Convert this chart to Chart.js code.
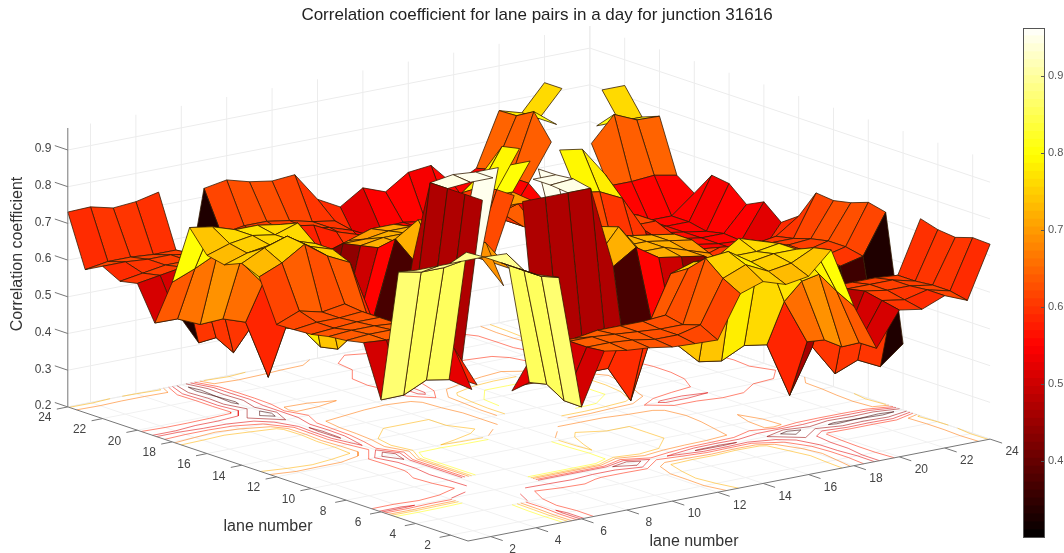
<!DOCTYPE html>
<html><head><meta charset="utf-8">
<script src="https://cdn.jsdelivr.net/npm/chart.js@4"></script>
<style>html,body{margin:0;padding:0;background:#fff;overflow:hidden}
#main{position:absolute;left:0;top:0}#bar{position:absolute;left:1000px;top:0}</style></head>
<body><canvas id="main" width="1064" height="553"></canvas><canvas id="bar" width="64" height="553"></canvas>
<script>
const chartTitle="Correlation coefficient for lane pairs in a day for junction 31616";
const zLabel="Correlation coefficient", laneLabel="lane number";
const laneTicks=[2,4,6,8,10,12,14,16,18,20,22,24];
const zTicks=[0.2,0.3,0.4,0.5,0.6,0.7,0.8,0.9];
const barTicks=[0.4,0.5,0.6,0.7,0.8,0.9];
const N=null;
// lower triangle: row j holds lanes i=1..j
const r01=[N];
const r02=[N,N];
const r03=[N,N,N];
const r04=[.89,.89,.89,.89];
const r05=[.87,.857,.857,.887,N];
const r06=[.505,.506,.535,.524,.485,N];
const r07=[.645,.64,.64,.62,.58,.47,N];
const r08=[.635,.64,.64,.62,.57,.47,.945,N];
const r09=[.63,.635,.635,.63,.56,.47,.945,N,N];
const r10=[.62,.625,.63,.63,.59,.47,.945,.95,.95,N];
const r11=[.617,.625,.625,.63,.59,.47,.945,.955,.95,.95,N];
const r12=[.615,.64,.625,.635,.59,.37,.72,.726,.70,.69,.6,N];
const r13=[.729,.755,.794,.75,.72,.55,.76,.80,.785,.74,.70,.62,N];
const r14=[.75,.78,.80,.76,.74,.50,.72,.72,.72,.72,.70,.62,.79,N];
const r15=[.73,.75,.76,.76,.74,.44,.71,.72,.72,.72,.70,.62,.79,.89,N];
const r16=[.74,.76,.77,.76,.78,.43,.70,.70,.71,.71,.69,.60,.78,.88,N,N];
const r17=[.80,.79,.77,.77,.76,.46,.66,.68,.70,.70,.68,.60,.75,.80,.80,.80,N];
const r18=[.635,.66,.69,.655,.584,.45,.58,.58,.60,.62,.62,.50,.65,.68,.70,.70,.66,N];
const r19=[.508,.507,.48,.483,.462,.30,.70,.69,.66,.64,.62,.50,.60,.60,.62,.64,.64,.55,N];
const r20=[.60,.61,.62,.61,.60,.42,.60,.60,.60,.60,.59,.52,.58,.60,.62,.62,.60,.55,.60,N];
const r21=[.59,.60,.61,.61,.60,.335,.60,.60,.60,.60,.59,.55,.55,.56,.56,.56,.56,.55,.64,.74,N];
const r22=[.615,.615,.61,.61,.60,.36,.60,.61,.61,.61,.60,.58,.55,.55,.55,.55,.55,.55,.64,.807,.76,N];
const r23=[.59,.60,.60,.595,.595,.33,.615,.625,.625,.615,.60,.59,.52,.546,.55,.54,.55,.55,.645,.78,.76,.83,N];
const r24=[.731,.733,.718,.723,.737,.38,.723,.734,.717,.707,.712,.633,.60,.64,.617,.658,.665,.60,.633,.778,.76,.83,N,N];
const rows=[r01,r02,r03,r04,r05,r06,r07,r08,r09,r10,r11,r12,r13,r14,r15,r16,r17,r18,r19,r20,r21,r22,r23,r24];
const absentCells=[[5,23],[7,11],[8,11]];
const contourLevels=[.36,.45,.52,.58,.66,.72,.8];

const Z=(i,j)=>{const a=Math.max(i,j),b=Math.min(i,j);return rows[a-1][b-1];};
const CLIM=[.30,.962], n=rows.length;
function hotRGB(v){const t=Math.min(1,Math.max(0,(v-CLIM[0])/(CLIM[1]-CLIM[0])));
 const r=Math.min(1,t/.375),g=Math.min(1,Math.max(0,(t-.375)/.375)),b=Math.min(1,Math.max(0,(t-.75)/.25));
 return `${Math.round(r*255)},${Math.round(g*255)},${Math.round(b*255)}`;}
const hot=v=>`rgb(${hotRGB(v)})`;
function P(i,j,z){return {x:468+22.7*(i-1)-17.4*(j-1),y:541-4.43*(i-1)-5.83*(j-1)-(z-.2)*367};}
const line=(pts,color,w)=>({data:pts,borderColor:color,borderWidth:w,pointRadius:0,fill:false,tension:0,spanGaps:false});
const list=[];
const gridC='#ececec',zTop=.96;
for(const t of laneTicks){
 list.push(line([P(t,24,.2),P(t,24,zTop)],gridC,1),line([P(24,t,.2),P(24,t,zTop)],gridC,1));
 list.push(line([P(t,1,.2),P(t,24,.2)],'#f1f1f1',1),line([P(1,t,.2),P(24,t,.2)],'#f1f1f1',1));
}
for(const z of zTicks){list.push(line([P(1,24,z),P(24,24,z),P(24,1,z)],gridC,1));}
// contours on the floor
for(const lv of contourLevels){
 const pts=[];
 const cross=(a,b,va,vb)=>{const f=(lv-va)/(vb-va);return P(a[0]+(b[0]-a[0])*f,a[1]+(b[1]-a[1])*f,.2);};
 for(let i=1;i<n;i++)for(let j=1;j<n;j++){
  const c=[[i,j],[i+1,j],[i+1,j+1],[i,j+1]],v=c.map(p=>Z(p[0],p[1]));
  if(v.some(x=>x===N))continue;
  const hit=[];
  for(let k=0;k<4;k++){const a=k,b=(k+1)%4;if((v[a]<lv)!==(v[b]<lv))hit.push(cross(c[a],c[b],v[a],v[b]));}
  for(let k=0;k+1<hit.length;k+=2){pts.push(hit[k],hit[k+1],{x:NaN,y:NaN});}
 }
 list.push(line(pts,`rgba(${hotRGB(lv)},.55)`,1));
}
// surface, painted far to near
const absent=new Set();for(const [a,b] of absentCells){absent.add(a+'_'+b);absent.add(b+'_'+a);}
const cells=[];
for(let i=1;i<n;i++)for(let j=1;j<n;j++){
 const v=[Z(i,j),Z(i+1,j),Z(i+1,j+1),Z(i,j+1)];
 if(v.some(x=>x===N)||absent.has(i+'_'+j))continue;
 const c=P(i+.5,j+.5,.2);
 cells.push({k:c.y,pts:[P(i,j,v[0]),P(i+1,j,v[1]),P(i+1,j+1,v[2]),P(i,j+1,v[3]),P(i,j,v[0])],col:hot(v[0])});
}
cells.sort((a,b)=>a.k-b.k);
for(const c of cells){list.push({data:c.pts,borderColor:'rgba(50,25,0,.78)',borderWidth:1,pointRadius:0,tension:0,fill:'shape',backgroundColor:c.col,borderJoinStyle:'round'});}
// box lines
const axC='#777';
list.push(line([P(1,24,.2),P(1,24,zTop)],axC,1));
list.push(line([P(1,24,.2),P(1,1,.2),P(24,1,.2)],axC,1));
for(const t of laneTicks){
 const a=P(1,t,.2),b=P(t,1,.2);
 list.push(line([a,{x:a.x-11,y:a.y+2.2}],axC,1));
 list.push(line([b,{x:b.x+12,y:b.y+4}],axC,1));
}
for(const z of zTicks){const a=P(1,24,z);list.push(line([a,{x:a.x-13,y:a.y-4.4}],axC,1));}
list.reverse();
const textPlugin={id:'texts',afterDraw(ch){
 const c=ch.ctx;c.save();c.textAlign='center';c.textBaseline='middle';
 c.fillStyle='#444';c.font='12px "Liberation Sans"';
 for(const t of laneTicks){
  const a=P(1,t,.2),b=P(t,1,.2);
  c.fillText(String(t),a.x-23,a.y+11);
  c.fillText(String(t),b.x+22,b.y+13);
 }
 for(const z of zTicks){const a=P(1,24,z);c.fillText(z.toFixed(1),43,a.y-1);}
 c.font='16px "Liberation Sans"';c.fillStyle='#333';
 c.fillText(laneLabel,268,527);c.fillText(laneLabel,694,542);
 c.translate(18,254);c.rotate(-Math.PI/2);c.fillText(zLabel,0,0);
 c.restore();
}};
new Chart(document.getElementById('main'),{type:'line',data:{datasets:list},plugins:[textPlugin],options:{
 responsive:false,animation:false,events:[],layout:{padding:{left:10,right:0,top:0,bottom:0}},
 plugins:{legend:{display:false},tooltip:{enabled:false},
  title:{display:true,text:chartTitle,fullSize:false,color:'#222',font:{family:'"Liberation Sans"',size:17,weight:'normal',lineHeight:1.2},padding:{top:5,bottom:0}}},
 scales:{x:{type:'linear',display:false,min:10,max:1064},y:{type:'linear',display:false,min:25.4,max:553,reverse:true}}
}});
// colour bar
const barLevels=64,step=(CLIM[1]-CLIM[0])/barLevels;
const barSets=[{data:[CLIM[0]],backgroundColor:'rgba(0,0,0,0)',borderWidth:0}];
for(let k=0;k<barLevels;k++)barSets.push({data:[step],backgroundColor:hot(CLIM[0]+(k+.5)*step),borderWidth:0,barPercentage:1,categoryPercentage:1,inflateAmount:.6});
barSets[0].barPercentage=1;barSets[0].categoryPercentage=1;
const barPlugin={id:'barTicks',afterDraw(ch){
 const c=ch.ctx,y=ch.scales.y,a=ch.chartArea;c.save();c.strokeStyle='#555';c.lineWidth=1;
 c.strokeRect(a.left+.5,a.top+.5,a.right-a.left-1,a.bottom-a.top-1);
 for(const t of barTicks){const p=Math.round(y.getPixelForValue(t))+.5;c.beginPath();c.moveTo(a.right-4,p);c.lineTo(a.right,p);c.stroke();}
 c.restore();}};
new Chart(document.getElementById('bar'),{type:'bar',data:{labels:[''],datasets:barSets},plugins:[barPlugin],options:{
 responsive:false,animation:false,events:[],layout:{padding:{left:23,right:0,top:28,bottom:15}},
 plugins:{legend:{display:false},tooltip:{enabled:false}},
 scales:{x:{stacked:true,display:false},
  y:{stacked:true,position:'right',min:CLIM[0],max:CLIM[1],border:{display:false},grid:{display:false,drawTicks:false},
   afterBuildTicks(s){s.ticks=barTicks.map(v=>({value:v}));},
   afterFit(s){s.width=19;},
   ticks:{padding:3,color:'#555',font:{family:'"Liberation Sans"',size:11},callback:v=>v.toFixed(1)}}}
}});
</script></body></html>
